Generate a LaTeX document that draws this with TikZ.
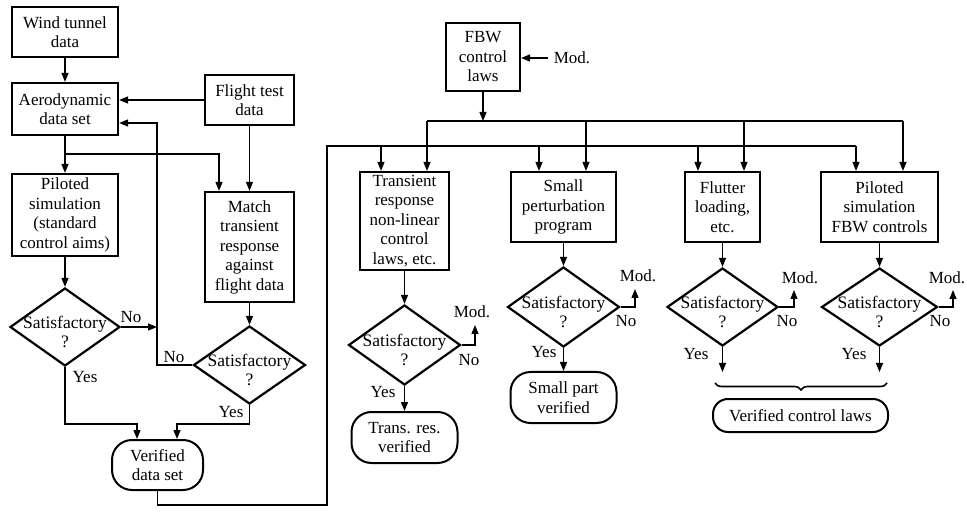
\documentclass[tikz,border=0pt]{standalone}
\usepackage{fontspec}
\setmainfont{Liberation Serif}
\usetikzlibrary{arrows.meta,shapes.geometric,decorations.pathreplacing}

\begin{document}
\begin{tikzpicture}[x=1pt,y=-1pt,
  font=\fontsize{17}{19.5}\selectfont,
  box/.style={draw,line width=2.2pt,rectangle,inner sep=0pt,align=center},
  dia/.style={draw,line width=2.2pt,diamond,inner sep=0pt},
  term/.style={draw,line width=2pt,rectangle,rounded corners=20pt,inner sep=0pt,align=center},
  lab/.style={inner sep=0pt},
  qtext/.style={inner sep=0pt,align=center,font=\fontsize{17.5}{19}\selectfont},
  flow/.style={line width=1.3pt,-{Triangle[length=9pt,width=7pt]}},
  wire/.style={line width=1.3pt},
]
\clip (0,0) rectangle (967,521);

% ---------- aerodynamic data branch ----------
\node[box,minimum width=106,minimum height=50] (wt) at (65,32) {Wind tunnel\\data};
\node[box,minimum width=106,minimum height=52] (aero) at (65,109) {Aerodynamic\\data set};
\node[box,minimum width=89,minimum height=50] (ftd) at (249.5,100) {Flight test\\data};
\node[box,minimum width=106,minimum height=82] (pilot) at (65,215) {Piloted\\simulation\\(standard\\control aims)};
\node[box,minimum width=89,minimum height=110] (match) at (249.5,247) {Match\\transient\\response\\against\\flight data};
\node[dia,minimum width=110,minimum height=78] (d1) at (65,327) {};
\node[qtext] at ([yshift=-5]d1.center) {Satisfactory\\?};
\node[dia,minimum width=112,minimum height=78] (d2) at (249.5,365) {};
\node[qtext] at ([yshift=-5]d2.center) {Satisfactory\\?};
\node[term,minimum width=91,minimum height=50] (vds) at (157.5,465) {Verified\\data set};

\draw[flow] (wt) -- (aero);
\draw[flow] (ftd.west) -- (ftd.west -| aero.east);
\coordinate (j1) at (aero.south |- 0,154);
\draw[flow] (aero) -- (pilot);
\draw[flow] (j1) -| ([xshift=-30.5]match.north);
\draw[flow] (ftd) -- (match);
\draw[flow] (pilot) -- (d1);
\draw[flow] (match) -- (d2);

\coordinate (nl) at (157,365);
\draw[flow] (d1.east) -- (d1.east -| nl);
\draw[flow] (d2.west) -- (nl) |- ([yshift=-14]aero.east);
\draw[flow] (d1.south) -- ++(0,57) -| ([xshift=-20.5]vds.north);
\draw[flow] (d2.south) -- ++(0,19) -| ([xshift=19.5]vds.north);

\node[lab] at (131,317) {No};
\node[lab] at (174,357) {No};
\node[lab] at (85,377) {Yes};
\node[lab] at (231,412) {Yes};

% ---------- control law branch ----------
\node[box,minimum width=74,minimum height=68] (fbw) at (483,57) {FBW\\control\\laws};
\node[lab] (modf) at (572,58) {Mod.};
\draw[flow,shorten <=6pt] (modf.west) -- (fbw.east |- modf.west);

\node[box,minimum width=89,minimum height=98] (tr) at (404.5,221) {Transient\\response\\non-linear\\control\\laws, etc.};
\node[box,minimum width=105,minimum height=70] (sp) at (563.5,207) {Small\\perturbation\\program};
\node[box,minimum width=75,minimum height=70] (fl) at (722.5,207) {Flutter\\loading,\\etc.};
\node[box,minimum width=117,minimum height=70] (pf) at (879.5,207) {Piloted\\simulation\\FBW controls};

% distribution buses
\coordinate (c1) at (327,505);
\coordinate (b2) at (327,146);
\coordinate (b1) at (0,121);
\draw[wire] (vds.south) |- (c1) -- (b2) -- ([xshift=-23.5]pf.north |- b2);
\draw[wire] ([xshift=22.5]tr.north |- b1) -- ([xshift=23.5]pf.north |- b1);
\draw[flow] (fbw) -- (fbw.south |- b1);
\foreach \n/\a/\b in {tr/-23.5/22.5, sp/-24.5/22.5, fl/-24.5/21.5, pf/-23.5/23.5} {
  \draw[flow] ([xshift=\a]\n.north |- b2) -- ([xshift=\a]\n.north);
  \draw[flow] ([xshift=\b]\n.north |- b1) -- ([xshift=\b]\n.north);
}

% decisions
\node[dia,minimum width=112,minimum height=80] (dt) at (404.5,345) {};
\node[qtext] at ([yshift=-5]dt.center) {Satisfactory\\?};
\node[dia,minimum width=112,minimum height=80] (ds) at (563.5,307) {};
\node[qtext] at ([yshift=-5]ds.center) {Satisfactory\\?};
\node[dia,minimum width=111,minimum height=78] (df) at (722.5,307) {};
\node[qtext] at ([yshift=-5]df.center) {Satisfactory\\?};
\node[dia,minimum width=116,minimum height=78] (dp) at (879.5,307) {};
\node[qtext] at ([yshift=-5]dp.center) {Satisfactory\\?};

\draw[flow] (tr) -- (dt);
\draw[flow] (sp) -- (ds);
\draw[flow] (fl) -- (df);
\draw[flow] (pf) -- (dp);

% modification returns
\coordinate (mt) at (475,325);
\coordinate (ms) at (635,289);
\coordinate (mf) at (794,290);
\coordinate (mp) at (953,290);
\draw[flow] (dt.east) -| (mt);
\draw[flow] (ds.east) -| (ms);
\draw[flow] (df.east) -| (mf);
\draw[flow] (dp.east) -| (mp);
\node[lab] at (472,312) {Mod.};
\node[lab] at (638,276) {Mod.};
\node[lab] at (800,278) {Mod.};
\node[lab] at (947,278) {Mod.};
\node[lab] at (469,360) {No};
\node[lab] at (626,321) {No};
\node[lab] at (787,321) {No};
\node[lab] at (940,321) {No};

% verified outcomes
\node[term,minimum width=106,minimum height=51] (trv) at (404.5,437.5) {Trans. res.\\verified};
\node[term,minimum width=106,minimum height=51] (spv) at (563.5,397.5) {Small part\\verified};
\node[term,minimum width=175,minimum height=33,rounded corners=15pt] (vcl) at (800.5,415.5) {Verified control laws};

\draw[flow] (dt) -- (trv);
\draw[flow] (ds) -- (spv);
\coordinate (yf) at (722.5,372);
\coordinate (yp) at (879.5,372);
\draw[flow] (df.south) -- (yf);
\draw[flow] (dp.south) -- (yp);
\node[lab] at (383,392) {Yes};
\node[lab] at (544,352) {Yes};
\node[lab] at (696,354) {Yes};
\node[lab] at (854,354) {Yes};

\draw[line width=1.6pt,decorate,decoration={brace,mirror,amplitude=7pt}] (715,383) -- (887,383);
\end{tikzpicture}
\end{document}
